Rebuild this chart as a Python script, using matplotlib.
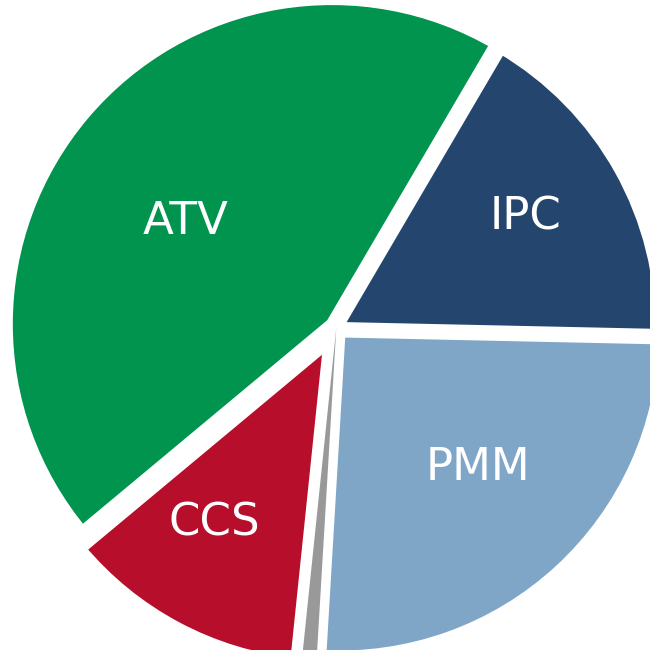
import matplotlib.pyplot as plt

# slice data, clockwise from the ATV/CCS boundary
labels = ["ATV", "IPC", "PMM", "Other", "CCS"]
shares = [44.5, 16.9, 25.6, 0.7, 12.3]
colors = ["#00944F", "#24466E", "#7FA6C7", "#999999", "#B70E2B"]
explode = [0.018, 0.0, 0.015, 0.0, 0.045]

# label anchor points (data units, pie radius = 1)
label_xy = {
    "ATV": (-0.464, 0.328),
    "IPC": (0.581, 0.340),
    "PMM": (0.435, -0.429),
    "CCS": (-0.376, -0.600),
}

fig = plt.figure(figsize=(6.5, 6.5), dpi=100)
ax = fig.add_axes([0, 0, 1, 1])

wedges, texts = ax.pie(
    shares, colors=colors, explode=explode, startangle=219.8,
    counterclock=False, radius=1.0,
    wedgeprops=dict(edgecolor="white", linewidth=8.6),
)

# the thin grey slice sits on top without a border
wedges[3].set_linewidth(0)
wedges[3].set_zorder(3)

for name, (x, y) in label_xy.items():
    ax.text(x, y, name, color="white", fontsize=32.5, ha="center", va="center",
            family="DejaVu Sans", zorder=5)

# pie is larger than the canvas and cropped on the right and bottom
ax.set_xlim(-1.0348, 0.9652)
ax.set_ylim(-0.9911, 1.0089)
ax.set_aspect("equal")
ax.axis("off")

fig.savefig("out.png", dpi=100)
